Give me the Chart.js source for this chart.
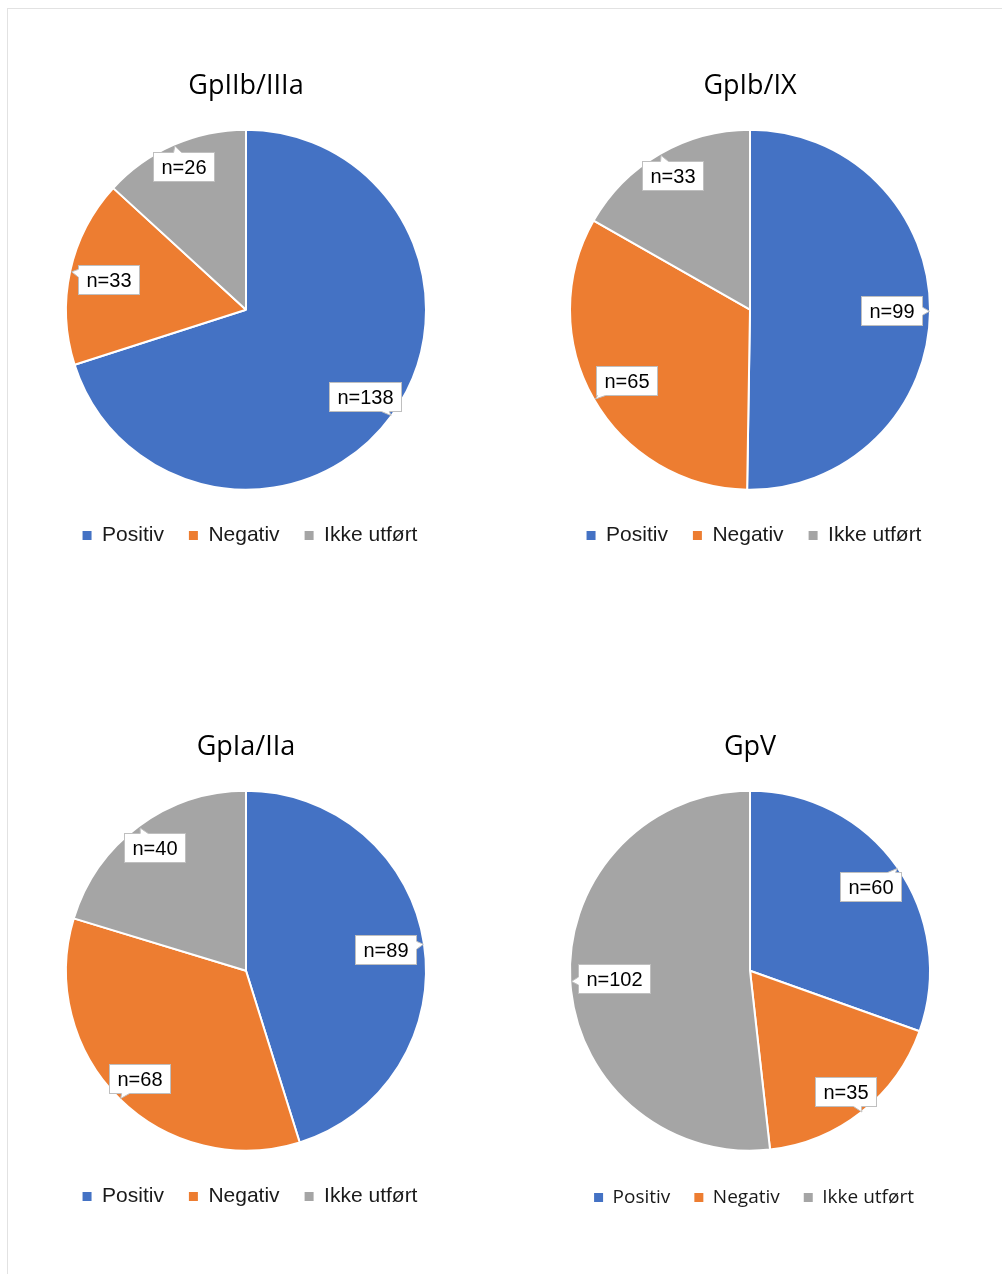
<!DOCTYPE html>
<html>
<head>
<meta charset="utf-8">
<script src="https://cdn.jsdelivr.net/npm/chart.js@4/dist/chart.umd.min.js"></script>
<style>
  html, body { margin: 0; padding: 0; background: #ffffff; }
  body { width: 1002px; height: 1274px; position: relative; overflow: hidden; }
  .frame { position: absolute; left: 7px; top: 8px; width: 1100px; height: 1400px;
           border: 1px solid #e2e2e2; box-sizing: border-box; }
  canvas { position: absolute; }
</style>
</head>
<body>
<div class="frame"></div>
<canvas id="c1" width="460" height="516" style="left:16px;top:40px"></canvas>
<canvas id="c2" width="460" height="516" style="left:520px;top:40px"></canvas>
<canvas id="c3" width="460" height="516" style="left:16px;top:701px"></canvas>
<canvas id="c4" width="460" height="516" style="left:520px;top:701px"></canvas>
<script>
// Categories shared by all four pies
const categories = ['Positiv', 'Negativ', 'Ikke utført'];

// Glycoprotein names (one per pie)
const titles = ['GpIIb/IIIa', 'GpIb/IX', 'GpIa/IIa', 'GpV'];

// Counts per category: Positiv, Negativ, Ikke utført
const gpIIbIIIa = [138, 33, 26];
const gpIbIX    = [99, 65, 33];
const gpIaIIa   = [89, 68, 40];
const gpV       = [60, 35, 102];

const palette = ['#4472C4', '#ED7D31', '#A5A5A5'];

Chart.defaults.font.family = "'Liberation Sans', Arial, sans-serif";

// Boxed "n=…" labels; each box sits inside its slice with a short tail
// whose tip reaches the outer rim along the slice's middle angle.
const calloutLabels = {
  id: 'calloutLabels',
  afterDatasetsDraw(chart, args, opts) {
    const ctx = chart.ctx;
    const ds = chart.data.datasets[0];
    const meta = chart.getDatasetMeta(0);
    ctx.save();
    ctx.font = opts.font;
    meta.data.forEach((arc, i) => {
      const p = arc.getProps(['x', 'y', 'startAngle', 'endAngle', 'outerRadius'], true);
      const mid = (p.startAngle + p.endAngle) / 2;
      const dx = Math.cos(mid), dy = Math.sin(mid);
      const text = 'n=' + ds.data[i];
      const w = Math.round(ctx.measureText(text).width + 2 * opts.padX);
      const h = opts.boxHeight;
      const tx = Math.abs(dx) > 1e-6 ? (w / 2) / Math.abs(dx) : Infinity;
      const ty = Math.abs(dy) > 1e-6 ? (h / 2) / Math.abs(dy) : Infinity;
      const t = Math.min(tx, ty);
      const len = opts.tailLength;
      const dist = p.outerRadius - opts.tipInset - len - t;
      const cx = p.x + dx * dist, cy = p.y + dy * dist;
      const left = Math.round(cx - w / 2) + 0.5;
      const top = Math.round(cy - h / 2) + 0.5;
      const right = left + w, bottom = top + h;
      const bx = left + w / 2, by = top + h / 2;

      // box
      ctx.fillStyle = '#ffffff';
      ctx.strokeStyle = opts.borderColor;
      ctx.lineWidth = 1;
      ctx.fillRect(left, top, w, h);
      ctx.strokeRect(left, top, w, h);

      // tail
      const ex = bx + dx * t, ey = by + dy * t;
      const half = opts.tailBase;
      let b1, b2, in1, in2;
      if (tx <= ty) {
        const yy = Math.min(Math.max(ey, top + half + 1), bottom - half - 1);
        const xx = dx > 0 ? right : left;
        const s = dx > 0 ? -1.5 : 1.5;
        b1 = [xx, yy - half]; b2 = [xx, yy + half];
        in1 = [xx + s, yy - half]; in2 = [xx + s, yy + half];
      } else {
        const xx = Math.min(Math.max(ex, left + half + 1), right - half - 1);
        const yy = dy > 0 ? bottom : top;
        const s = dy > 0 ? -1.5 : 1.5;
        b1 = [xx - half, yy]; b2 = [xx + half, yy];
        in1 = [xx - half, yy + s]; in2 = [xx + half, yy + s];
      }
      const tip = [ex + dx * len, ey + dy * len];
      ctx.beginPath();
      ctx.moveTo(in1[0], in1[1]);
      ctx.lineTo(b1[0], b1[1]);
      ctx.lineTo(tip[0], tip[1]);
      ctx.lineTo(b2[0], b2[1]);
      ctx.lineTo(in2[0], in2[1]);
      ctx.closePath();
      ctx.fillStyle = '#ffffff';
      ctx.fill();
      ctx.beginPath();
      ctx.moveTo(b1[0], b1[1]);
      ctx.lineTo(tip[0], tip[1]);
      ctx.lineTo(b2[0], b2[1]);
      ctx.stroke();

      // text
      ctx.fillStyle = opts.color;
      ctx.textAlign = 'center';
      ctx.textBaseline = 'middle';
      ctx.fillText(text, bx, by + 1);
    });
    ctx.restore();
  }
};

// Nudges the bottom legend sideways after layout without moving the pie
const legendNudge = {
  id: 'legendNudge',
  afterLayout(chart, args, opts) {
    const lg = chart.legend;
    if (lg && opts.dx) {
      lg.left += opts.dx;
      lg.right += opts.dx;
    }
  }
};

function legendItems(chart) {
  const ds = chart.data.datasets[0];
  return chart.data.labels.map((label, i) => ({
    text: label,
    fillStyle: ds.backgroundColor[i],
    strokeStyle: ds.backgroundColor[i],
    lineWidth: 0,
    fontColor: '#1a1a1a',
    hidden: !chart.getDataVisibility(i),
    index: i
  }));
}

function makePie(id, title, values, legendFont, legendPad, titlePad) {
  return new Chart(document.getElementById(id), {
    type: 'pie',
    data: {
      labels: categories,
      datasets: [{
        data: values,
        backgroundColor: palette,
        borderColor: '#ffffff',
        borderWidth: 2,
        radius: 180
      }]
    },
    options: {
      responsive: false,
      animation: false,
      layout: { padding: 0 },
      plugins: {
        title: {
          display: true,
          text: title,
          color: '#000000',
          font: { family: "'Open Sans', sans-serif", size: 27, weight: 'normal' },
          padding: titlePad
        },
        legend: {
          position: 'bottom',
          labels: {
            boxWidth: 9,
            boxHeight: 9,
            padding: legendPad,
            font: legendFont,
            generateLabels: legendItems
          }
        },
        legendNudge: { dx: 4 },
        tooltip: { enabled: false },
        calloutLabels: {
          font: "20px 'Liberation Sans', Arial, sans-serif",
          color: '#000000',
          borderColor: '#bfbfbf',
          padX: 8,
          boxHeight: 29,
          tailBase: 4,
          tailLength: 7,
          tipInset: 1
        }
      }
    },
    plugins: [calloutLabels, legendNudge]
  });
}

const arialLegend = { family: "'Liberation Sans', Arial, sans-serif", size: 21 };
const sansLegend = { family: "'Open Sans', sans-serif", size: 19 };

makePie('c1', titles[0], gpIIbIIIa, arialLegend, 25, { top: 30, bottom: 17 });
makePie('c2', titles[1], gpIbIX, arialLegend, 25, { top: 30, bottom: 17 });
makePie('c3', titles[2], gpIaIIa, arialLegend, 25, { top: 30, bottom: 17 });
makePie('c4', titles[3], gpV, sansLegend, 24, { top: 30, bottom: 14 });
</script>
</body>
</html>
